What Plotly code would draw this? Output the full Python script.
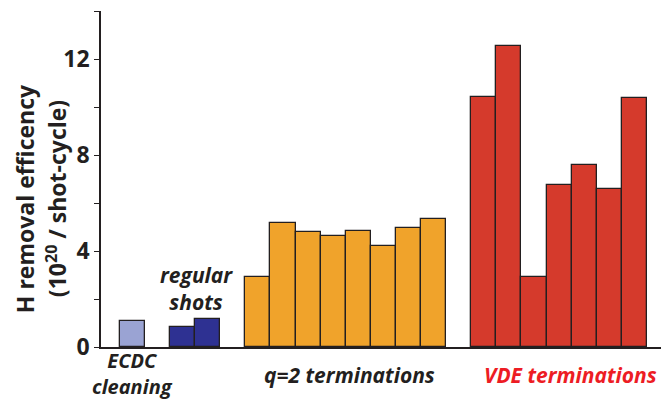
import plotly.graph_objects as go

# ---- data ----
ecdc_vals = [1.1]
regular_vals = [0.85, 1.18]
q2_vals = [2.93, 5.15, 4.79, 4.64, 4.82, 4.19, 4.97, 5.35]
vde_vals = [10.40, 12.53, 2.92, 6.74, 7.60, 6.58, 10.37]

groups = [
    ("ecdc", ecdc_vals, "#9aa3d3"),
    ("regular", regular_vals, "#2e3192"),
    ("q2", q2_vals, "#f0a32b"),
    ("vde", vde_vals, "#d53a2c"),
]

Y_MAX = 14
Y_MAJOR = 4   # labelled ticks 0, 4, 8, 12
Y_MINOR = 2   # unlabelled ticks in between (and at the top)

DARK = "#231f20"
FONT = "Open Sans"
PLOT_H = 336  # px, for placing labels below the axis

# ---- layout of bar slots: 1 unit per bar, 1 unit gap between groups ----
START = 0.75
GAP = 1.0

fig = go.Figure()
centers = {}
pos = START
for name, vals, color in groups:
    xs = [pos + 0.5 + i for i in range(len(vals))]
    centers[name] = pos + len(vals) / 2
    fig.add_trace(go.Bar(
        x=xs, y=vals, width=1.0,
        marker=dict(color=color, line=dict(color=DARK, width=1.3)),
        showlegend=False, hoverinfo="skip",
    ))
    pos += len(vals) + GAP


def label(text, x, y, yref="paper", color=DARK, xshift=0, size=21):
    return dict(x=x, y=y, xref="x", yref=yref, xshift=xshift,
                text="<b><i>%s</i></b>" % text, showarrow=False,
                font=dict(family=FONT, size=size, color=color),
                yanchor="middle", borderpad=0)


annotations = [
    label("ECDC<br>cleaning", centers["ecdc"], -26 / PLOT_H, size=20),
    label("regular<br>shots", centers["regular"], 2.42, yref="y", xshift=1),
    label("q=2 terminations", centers["q2"], -28 / PLOT_H, xshift=4),
    label("VDE terminations", centers["vde"], -28 / PLOT_H,
          color="#ed1c24", xshift=11),
    # y-axis title, two lines
    dict(x=-76 / 560, y=0.44, xref="paper", yref="paper",
         text="<b>H removal efficency</b>", showarrow=False, textangle=-90,
         font=dict(family=FONT, size=23, color=DARK),
         xanchor="center", yanchor="middle"),
    dict(x=-44 / 560, y=0.44, xref="paper", yref="paper",
         text="<b>(10<sup>20</sup> / shot-cycle)</b>", showarrow=False,
         textangle=-90, font=dict(family=FONT, size=23, color=DARK),
         xanchor="center", yanchor="middle"),
]

fig.update_layout(
    width=661, height=401,
    margin=dict(l=101, r=0, t=11, b=54),
    paper_bgcolor="white", plot_bgcolor="white",
    bargap=0,
    annotations=annotations,
    xaxis=dict(range=[0, 560 / 25.1], showticklabels=False, ticks="",
               showgrid=False, zeroline=False, showline=True,
               linecolor=DARK, linewidth=1.5, fixedrange=True),
    yaxis=dict(range=[0, Y_MAX], tickmode="linear", tick0=0, dtick=Y_MAJOR,
               ticks="outside", ticklen=5, tickwidth=1.2, tickcolor=DARK,
               minor=dict(tick0=0, dtick=Y_MINOR, ticks="outside", ticklen=5,
                          tickwidth=1.2, tickcolor=DARK, showgrid=False),
               showgrid=False, zeroline=False, showline=True,
               linecolor=DARK, linewidth=1.5,
               tickfont=dict(family=FONT, size=23, color=DARK, weight="bold"),
               fixedrange=True),
)

fig.write_html("out.html", config={"displayModeBar": False},
               post_script="document.body.style.margin='0';")
